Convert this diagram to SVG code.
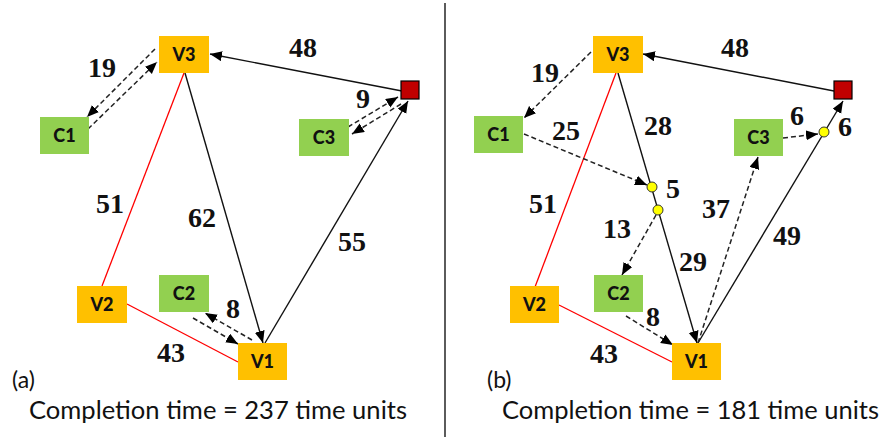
<svg xmlns="http://www.w3.org/2000/svg" width="889" height="437" viewBox="0 0 889 437">
  <style>
    .bg { fill: #ffffff; }
    .veh { fill: #FFC000; }
    .cli { fill: #92D050; }
    .dep { fill: #C00000; stroke: #000; stroke-width: 1.2; }
    .junc { fill: #FFFF00; stroke: #333; stroke-width: 1; }
    .nl { font-family: Lato, "Liberation Sans", sans-serif; font-weight: 900; font-size: 18px; fill: #111; text-anchor: middle; }
    .wt { font-family: "Liberation Serif", "Times New Roman", serif; font-weight: bold; font-size: 28px; fill: #111; text-anchor: middle; }
    .cap { font-family: Lato, "Liberation Sans", sans-serif; font-size: 25px; fill: #111; }
    .tag { font-family: Lato, "Liberation Sans", sans-serif; font-size: 23px; fill: #111; }
    .road { stroke: #FF0000; stroke-width: 1.3; fill: none; }
    .solid { stroke: #111; stroke-width: 1.4; fill: none; marker-end: url(#ah); }
    .dash { stroke: #222; stroke-width: 1.5; fill: none; stroke-dasharray: 5 3; marker-end: url(#ah); }
  </style>
  <defs>
    <marker id="ah" markerUnits="userSpaceOnUse" markerWidth="14" markerHeight="12" refX="12" refY="5" orient="auto">
      <path d="M0,0 L12,5 L0,10 Z" fill="#000"/>
    </marker>
  </defs>

  <rect class="bg" x="0" y="0" width="889" height="437"/>

  <!-- panel divider -->
  <line x1="445" y1="3" x2="445" y2="437" stroke="#333" stroke-width="1.6"/>

  <!-- ===== panel (a) connectors ===== -->
  <g id="connectors-a">
    <line class="road" x1="184" y1="73" x2="102" y2="286"/>
    <line class="road" x1="127" y1="304" x2="238" y2="362"/>
    <line class="solid" x1="402" y1="91" x2="210" y2="54"/>
    <line class="solid" x1="185" y1="73" x2="263" y2="343"/>
    <line class="solid" x1="265" y1="343" x2="408" y2="101"/>
    <line class="dash" x1="155" y1="49" x2="87" y2="117"/>
    <line class="dash" x1="88" y1="129" x2="157" y2="62"/>
    <line class="dash" x1="348" y1="127" x2="398" y2="97"/>
    <line class="dash" x1="401" y1="104" x2="352" y2="134"/>
    <line class="dash" x1="252" y1="340" x2="205" y2="313"/>
    <line class="dash" x1="193" y1="318" x2="238" y2="344"/>
  </g>

  <!-- ===== panel (a) nodes ===== -->
  <g id="a-V3"><rect class="veh" x="159" y="36" width="50" height="37"/><text class="nl" x="184" y="61">V3</text></g>
  <g id="a-C1"><rect class="cli" x="40" y="117" width="49" height="37"/><text class="nl" x="64.5" y="142">C1</text></g>
  <g id="a-C3"><rect class="cli" x="299" y="119" width="50" height="37"/><text class="nl" x="324" y="144">C3</text></g>
  <g id="a-C2"><rect class="cli" x="159" y="275" width="50" height="37"/><text class="nl" x="184" y="300">C2</text></g>
  <g id="a-V2"><rect class="veh" x="77" y="286" width="50" height="37"/><text class="nl" x="102" y="311">V2</text></g>
  <g id="a-V1"><rect class="veh" x="238" y="343" width="49" height="37"/><text class="nl" x="262.5" y="368">V1</text></g>
  <g id="a-depot"><rect class="dep" x="401" y="81" width="18" height="18"/></g>

  <!-- panel (a) weights -->
  <g id="a-weights">
    <text class="wt" x="102" y="77">19</text>
    <text class="wt" x="303" y="57">48</text>
    <text class="wt" x="363" y="108">9</text>
    <text class="wt" x="110" y="213">51</text>
    <text class="wt" x="202" y="227">62</text>
    <text class="wt" x="352" y="251">55</text>
    <text class="wt" x="233" y="318">8</text>
    <text class="wt" x="171" y="362">43</text>
  </g>
  <text class="tag" x="12" y="388">(a)</text>
  <text class="cap" x="29" y="419" textLength="378" lengthAdjust="spacingAndGlyphs">Completion time = 237 time units</text>

  <!-- ===== panel (b) connectors ===== -->
  <g id="connectors-b">
    <line class="road" x1="616" y1="73" x2="535" y2="287"/>
    <line class="road" x1="559" y1="305" x2="672" y2="362"/>
    <line class="solid" x1="834" y1="91" x2="643" y2="54"/>
    <line class="solid" x1="618" y1="73" x2="697" y2="343"/>
    <line class="solid" x1="698" y1="343" x2="843" y2="101"/>
    <line class="dash" x1="591" y1="52" x2="524" y2="118"/>
    <line class="dash" x1="524" y1="134" x2="647" y2="185"/>
    <line class="dash" x1="656" y1="215" x2="622" y2="275"/>
    <line class="dash" x1="626" y1="316" x2="673" y2="345"/>
    <line class="dash" x1="698" y1="343" x2="758" y2="157"/>
    <line class="dash" x1="783" y1="138" x2="818" y2="134"/>
  </g>

  <!-- ===== panel (b) nodes ===== -->
  <g id="b-V3"><rect class="veh" x="593" y="36" width="50" height="37"/><text class="nl" x="618" y="61">V3</text></g>
  <g id="b-C1"><rect class="cli" x="474" y="116" width="49" height="37"/><text class="nl" x="498.5" y="141">C1</text></g>
  <g id="b-C3"><rect class="cli" x="734" y="119" width="49" height="37"/><text class="nl" x="758.5" y="144">C3</text></g>
  <g id="b-C2"><rect class="cli" x="594" y="275" width="49" height="37"/><text class="nl" x="618.5" y="300">C2</text></g>
  <g id="b-V2"><rect class="veh" x="510" y="286" width="49" height="37"/><text class="nl" x="534.5" y="311">V2</text></g>
  <g id="b-V1"><rect class="veh" x="672" y="343" width="49" height="37"/><text class="nl" x="696.5" y="368">V1</text></g>
  <g id="b-depot"><rect class="dep" x="834" y="81" width="18" height="18"/></g>
  <g id="b-J1"><circle class="junc" cx="652" cy="187" r="5"/></g>
  <g id="b-J2"><circle class="junc" cx="658" cy="210" r="5"/></g>
  <g id="b-J3"><circle class="junc" cx="824" cy="132" r="5"/></g>

  <!-- panel (b) weights -->
  <g id="b-weights">
    <text class="wt" x="545" y="82">19</text>
    <text class="wt" x="735" y="57">48</text>
    <text class="wt" x="566" y="140">25</text>
    <text class="wt" x="658" y="135">28</text>
    <text class="wt" x="673" y="198">5</text>
    <text class="wt" x="797" y="125">6</text>
    <text class="wt" x="845" y="136">6</text>
    <text class="wt" x="543" y="213">51</text>
    <text class="wt" x="617" y="238">13</text>
    <text class="wt" x="716" y="218">37</text>
    <text class="wt" x="787" y="245">49</text>
    <text class="wt" x="693" y="271">29</text>
    <text class="wt" x="653" y="326">8</text>
    <text class="wt" x="604" y="363">43</text>
  </g>
  <text class="tag" x="487" y="388">(b)</text>
  <text class="cap" x="502" y="419" textLength="377" lengthAdjust="spacingAndGlyphs">Completion time = 181 time units</text>
</svg>
